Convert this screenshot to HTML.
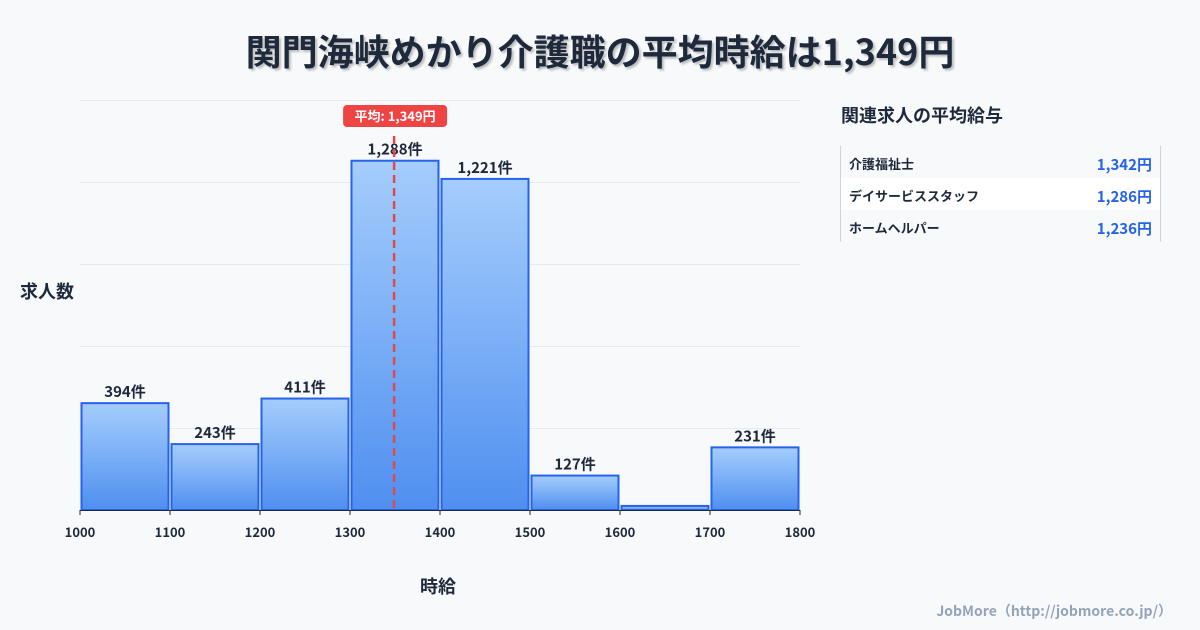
<!DOCTYPE html>
<html><head><meta charset="utf-8">
<style>
body{margin:0;width:1200px;height:630px;background:#f8f9fb;font-family:"Noto Sans CJK JP","Liberation Sans",sans-serif;overflow:hidden;position:relative}
.t{position:absolute;white-space:nowrap}
</style></head><body>
<div class="t" style="left:0;width:1200px;top:24px;text-align:center;font-size:36px;line-height:52px;font-weight:bold;color:#1e293b;text-shadow:2px 2px 2px rgba(0,0,0,0.25)">関門海峡めかり介護職の平均時給は1,349円</div>
<svg id="chart" width="1200" height="630" style="position:absolute;left:0;top:0;font-family:'Noto Sans CJK JP','Liberation Sans',sans-serif"></svg>
<div class="t" style="left:20px;top:278px;font-size:18px;line-height:26px;font-weight:bold;color:#1e293b">求人数</div>
<div class="t" style="left:420px;top:573px;font-size:18px;line-height:26px;font-weight:bold;color:#1e293b">時給</div>
<div class="t" style="left:841px;top:102px;font-size:18px;line-height:26px;font-weight:bold;color:#1e293b">関連求人の平均給与</div>
<div style="position:absolute;left:840px;top:146px;width:319px;height:96px;border-left:1px solid #cbd5e1;border-right:1px solid #cbd5e1;font-size:13px;font-weight:bold">
 <div style="height:32px;position:relative"><span class="t" style="left:8px;top:8px;line-height:20px;color:#1e293b">介護福祉士</span><span class="t" style="right:8px;top:8px;line-height:22px;color:#2563eb;font-size:15px">1,342円</span></div>
 <div style="height:32px;position:relative;background:#fff"><span class="t" style="left:8px;top:8px;line-height:20px;color:#1e293b">デイサービススタッフ</span><span class="t" style="right:8px;top:8px;line-height:22px;color:#2563eb;font-size:15px">1,286円</span></div>
 <div style="height:32px;position:relative"><span class="t" style="left:8px;top:8px;line-height:20px;color:#1e293b">ホームヘルパー</span><span class="t" style="right:8px;top:8px;line-height:22px;color:#2563eb;font-size:15px">1,236円</span></div>
</div>
<div class="t" style="right:28px;top:601px;line-height:20px;font-size:14px;font-weight:bold;color:#94a3b8">JobMore（http://jobmore.co.jp/）</div>
<script>
const binStarts=[1000,1100,1200,1300,1400,1500,1600,1700];
const counts=[394,243,411,1288,1221,127,15,231];
const countLabels=["394件","243件","411件","1,288件","1,221件","127件","","231件"];
const xTicks=[1000,1100,1200,1300,1400,1500,1600,1700,1800];
const gridVals=[0,300,600,900,1200,1500];
const meanVal=1349;
const meanLabel="平均: 1,349円";
const NS="http://www.w3.org/2000/svg";
const svg=document.getElementById('chart');
const x0=80,x1=800,xmin=1000,xmax=1800,yb=510,ymax=1500,ph=410;
const X=v=>x0+(v-xmin)/(xmax-xmin)*(x1-x0);
const Y=v=>yb-v/ymax*ph;
const Yb=v=>yb-v/1512*ph;
function mk(tag,attrs){const e=document.createElementNS(NS,tag);for(const k in attrs)e.setAttribute(k,attrs[k]);svg.appendChild(e);return e;}
const defs=mk('defs',{});
defs.innerHTML='<linearGradient id="g" x1="0" y1="0" x2="0" y2="1"><stop offset="0" stop-color="#a5cdfc"/><stop offset="1" stop-color="#4f8ff0"/></linearGradient>';
gridVals.forEach(v=>{const l=mk('line',{x1:x0,x2:x1,y1:Y(v)+0.5,y2:Y(v)+0.5,stroke:'#e5e9f0','stroke-width':1});

});
binStarts.forEach((b,i)=>{
 const xa=X(b)+1.5,xb=X(b+100)-1.5,y=Yb(counts[i]);
 const r=mk('rect',{x:xa,y:y,width:xb-xa,height:yb-y,fill:'url(#g)',stroke:'#2563eb','stroke-width':2});
 
 
 if(countLabels[i]){const t=mk('text',{x:(xa+xb)/2,y:y-6,'text-anchor':'middle','font-size':15,'font-weight':'bold',fill:'#1e293b'});t.textContent=countLabels[i];
 
 }
});
mk('line',{x1:x0,x2:x1,y1:yb+0.5,y2:yb+0.5,stroke:'#1e293b','stroke-width':1});
xTicks.forEach(v=>{mk('line',{x1:X(v),x2:X(v),y1:yb,y2:yb+5,stroke:'#1e293b'});
 const t=mk('text',{x:X(v),y:537,'text-anchor':'middle','font-size':13,'font-weight':'bold',fill:'#1e293b'});t.textContent=v;
 
 });
const mx=X(meanVal);
const ml=mk('line',{x1:mx,x2:mx,y1:136,y2:yb,stroke:'#dc4a4a','stroke-width':2.5,'stroke-dasharray':'8,5'});


const bg=mk('rect',{x:mx-51,y:105,width:104,height:22,rx:4,fill:'#ef4444'});


const mt=mk('text',{x:mx+1,y:121,'text-anchor':'middle','font-size':13,'font-weight':'bold',fill:'#fff'});mt.textContent=meanLabel;


</script>
</body></html>
